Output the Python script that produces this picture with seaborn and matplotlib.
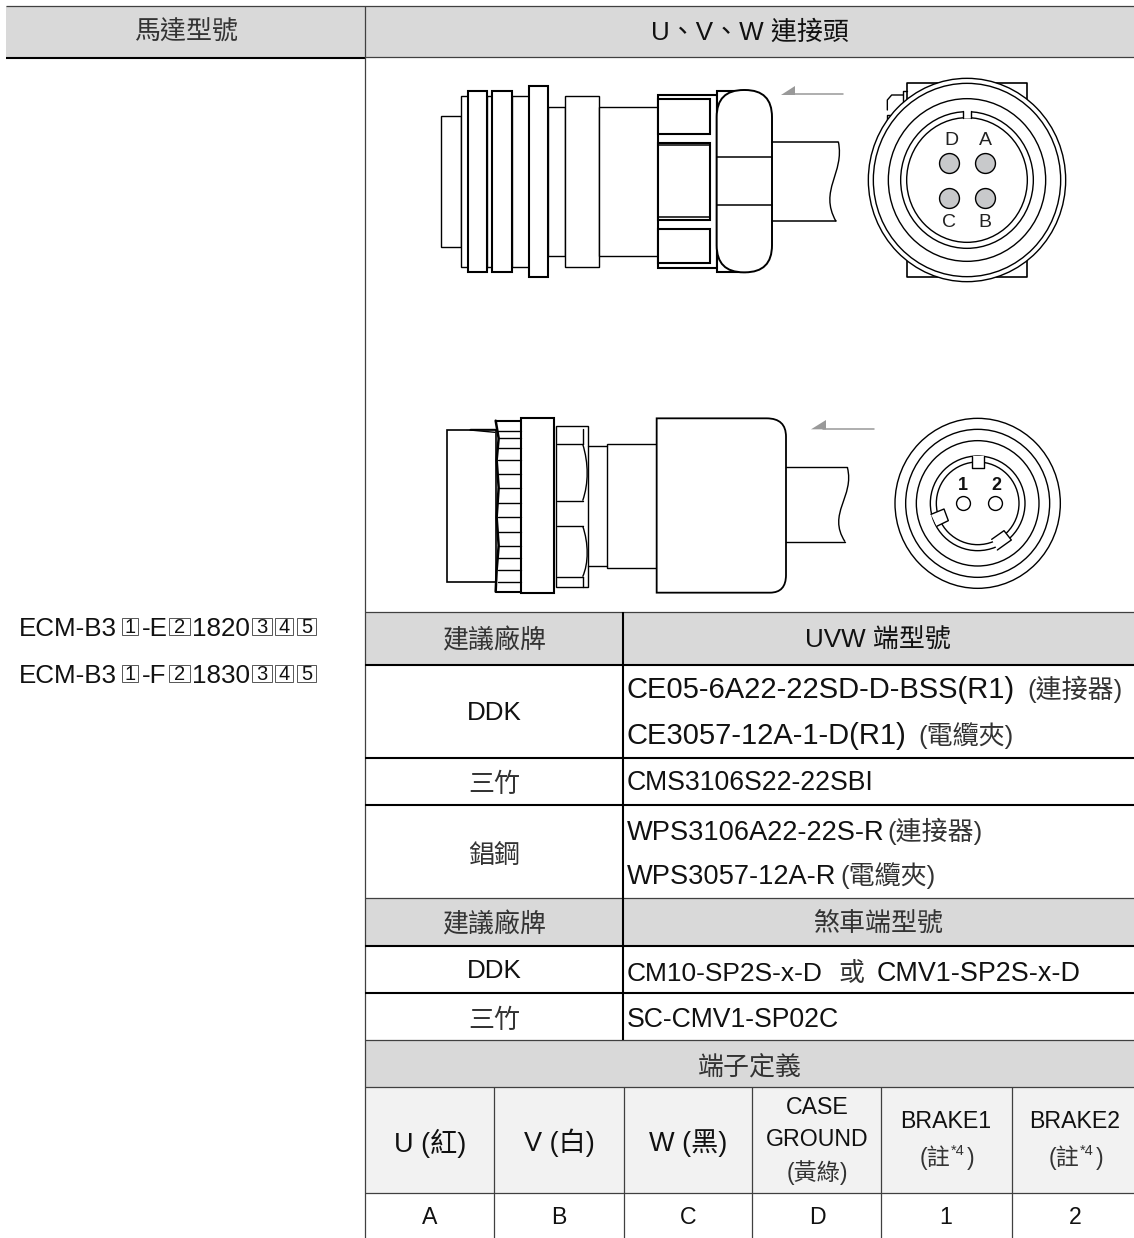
import matplotlib
matplotlib.use("Agg")
import matplotlib.pyplot as plt
from matplotlib.patches import Rectangle, Polygon, Ellipse, FancyBboxPatch, PathPatch
from matplotlib.path import Path
import pandas as pd
import seaborn as sns

#table text
head_left = "馬達型號"
head_right = "U、V、W 連接頭"
brand_head = "建議廠牌"
uvw_head = "UVW 端型號"
brake_head = "煞車端型號"
term_head = "端子定義"
brands_uvw = ["DDK", "三竹", "錩鋼"]
brands_brake = ["DDK", "三竹"]
term_names = ["U (紅)", "V (白)", "W (黑)"]
term_pins = ["A", "B", "C", "D", "1", "2"]
pin_labels_a = ["D", "A", "C", "B"]

#grid of the table, in pixels of the picture
thin_rows = [612, 898, 1040, 1087, 1193]
thick_rows = [665, 758, 804.5, 946, 993]
term_cols = [494, 624, 752, 881, 1012]

#connector outlines, in zoom pixels (3x)
plug1_rects = [(62, 168, 122, 562, 1), (122, 108, 145, 620, 1), (143, 93, 202, 635, 1.5),
               (202, 108, 218, 620, 1), (217, 93, 275, 635, 1.5), (275, 108, 328, 620, 1),
               (328, 78, 385, 652, 1.5), (385, 142, 434, 588, 1), (434, 108, 538, 620, 1),
               (538, 142, 714, 588, 1), (714, 105, 890, 625, 1.5), (714, 118, 870, 222, 1.5),
               (714, 248, 870, 480, 1.5), (714, 508, 870, 610, 1.5), (890, 93, 975, 636, 1.5)]
plug1_lines = [[(714, 255), (870, 255)], [(714, 472), (870, 472)],
               [(1056, 245), (1255, 245)], [(1056, 484), (1248, 484)]]
plug2_rects = [(50, 90, 197, 545, 1.2), (272, 55, 373, 580, 1.5),
               (378, 78, 475, 560, 1.0), (532, 132, 680, 505, 1)]
plug2_lines = [[(380, 132), (458, 132)], [(380, 302), (458, 302)], [(380, 378), (458, 378)],
               [(380, 530), (458, 530)], [(475, 137), (532, 137)],
               [(475, 497), (532, 497)], [(1068, 202), (1252, 202)], [(1068, 425), (1245, 425)],
               [(120, 86), (195, 86)], [(120, 90), (195, 97)],
               [(458, 132), (476, 190), (476, 250), (458, 302)],
               [(458, 378), (476, 430), (476, 490), (458, 530)],
               [(458, 88), (458, 132)], [(458, 530), (458, 560)]]
knurl_y = [92, 115, 145, 180, 222, 263, 310, 352, 397, 437, 475, 510, 545]
knurl_edge = [(197, 62), (206, 115), (200, 180), (206, 263), (200, 352), (206, 437), (200, 510), (197, 575)]
view1_radii = [(296, 305), (281, 290), (236, 244), (199, 205), (181, 187)]
view2_radii = [(248, 255), (216, 222), (184, 188), (142, 142), (124, 124)]
pins_x = [298, 406, 298, 406]
pins_y = [280, 280, 383, 383]
pins2_x = [248, 344]

sns.set_theme(style="white")
plt.rcParams["font.family"] = ["Liberation Sans", "Noto Sans CJK TC"]
INK = "#111111"
CJK = "#333333"

fig = plt.figure(figsize=(11.34, 12.38), dpi=100)
ax = fig.add_axes([0, 0, 1, 1])
ax.set_xlim(0, 1134)
ax.set_ylim(1238, 0)
ax.axis("off")


def txt(x, y, s, size=18.7, ha="center", va="center", **kw):
    ax.text(x, y, s, fontsize=size, ha=ha, va=va, color=kw.pop("color", INK), **kw)


def fill(x0, y0, x1, y1, color):
    ax.add_patch(Rectangle((x0, y0), x1 - x0, y1 - y0, fc=color, ec="none", zorder=0))


def hline(y, x0, x1, thick=False):
    ax.plot([x0, x1], [y, y], color="black" if thick else "#404040", lw=1.5 if thick else 0.9, zorder=3,
            solid_capstyle="butt")


def vline(x, y0, y1, thick=False):
    ax.plot([x, x], [y0, y1], color="black" if thick else "#404040", lw=1.5 if thick else 0.9, zorder=3,
            solid_capstyle="butt")


def to_px(ox, oy, pts):
    return [(ox + a / 3, oy + b / 3) for a, b in pts]


def poly(ox, oy, pts, lw=1.0, color="black", z=5):
    xy = to_px(ox, oy, pts)
    ax.plot([p[0] for p in xy], [p[1] for p in xy], color=color, lw=lw, zorder=z, solid_joinstyle="round")


def wavy(ox, oy, pts, lw=1.0):
    xy = to_px(ox, oy, pts)
    codes = [Path.MOVETO, Path.CURVE4, Path.CURVE4, Path.CURVE4]
    ax.add_patch(PathPatch(Path(xy, codes), fc="none", ec="black", lw=lw, zorder=5))


def box(ox, oy, r, z=4):
    x0, y0, x1, y1, lw = r
    p = to_px(ox, oy, [(x0, y0), (x1, y1)])
    ax.add_patch(Rectangle(p[0], p[1][0] - p[0][0], p[1][1] - p[0][1], fc="white", ec="black", lw=lw, zorder=z))


#fills
fill(6, 6, 1134, 58, "#d9d9d9")
fill(365, 612, 1134, 665, "#d9d9d9")
fill(365, 898, 1134, 946, "#d9d9d9")
fill(365, 1040, 1134, 1087, "#d9d9d9")
fill(365, 1087, 1134, 1193, "#f2f2f2")

#grid
hline(6, 6, 1134)
hline(58, 6, 365, True)
hline(57, 365, 1134)
vline(365, 6, 1238)
for y in thin_rows:
    hline(y, 365, 1134)
for y in thick_rows:
    hline(y, 365, 1134, True)
vline(623, 612, 1040, True)
for x in term_cols:
    vline(x, 1087, 1238)

#headers
txt(186, 32.5, head_left, color=CJK)
txt(750, 33, head_right)
txt(494, 640.5, brand_head, color=CJK)
txt(878, 640.5, uvw_head)
txt(494, 925, brand_head, color=CJK)
txt(878, 925, brake_head, color=CJK)
txt(750, 1068, term_head, color=CJK)

#left column, model numbers with boxed digits
for base, mid, tail, num in [(636, "-E", "1820", 0), (683, "-F", "1830", 1)]:
    txt(19, base, "ECM-B3", ha="left", va="baseline")
    txt(141.5, base, mid, ha="left", va="baseline")
    txt(192.5, base, tail, ha="left", va="baseline")
    for x0, x1, d in [(122, 138, "1"), (169, 190, "2"), (252, 272, "3"), (275, 293, "4"), (297, 316, "5")]:
        ax.add_patch(Rectangle((x0, base - 18), x1 - x0, 17, fc="white", ec="#555555", lw=0.7, zorder=4))
        txt((x0 + x1) / 2, base - 3, d, size=14.5, va="baseline", zorder=5)

#brand cells
txt(494, 713.5, brands_uvw[0])
txt(494, 785, brands_uvw[1], color=CJK)
txt(494, 856, brands_uvw[2], color=CJK)
txt(494, 971, brands_brake[0])
txt(494, 1021, brands_brake[1], color=CJK)

#model cells
txt(627, 698, "CE05-6A22-22SD-D-BSS(R1)", size=21, ha="left", va="baseline")
txt(1027, 698, "(連接器)", ha="left", va="baseline", color=CJK)
txt(627, 744, "CE3057-12A-1-D(R1)", size=21, ha="left", va="baseline")
txt(918, 744, "(電纜夾)", ha="left", va="baseline", color=CJK)
txt(627, 790, "CMS3106S22-22SBI", size=19.2, ha="left", va="baseline")
txt(627, 840, "WPS3106A22-22S-R", size=19.6, ha="left", va="baseline")
txt(887, 840, "(連接器)", ha="left", va="baseline", color=CJK)
txt(627, 884, "WPS3057-12A-R", size=19.6, ha="left", va="baseline")
txt(840, 884, "(電纜夾)", ha="left", va="baseline", color=CJK)
txt(627, 981, "CM10-SP2S-x-D", size=19, ha="left", va="baseline")
txt(838, 981, "或", ha="left", va="baseline", color=CJK)
txt(877, 981, "CMV1-SP2S-x-D", size=19.4, ha="left", va="baseline")
txt(627, 1027, "SC-CMV1-SP02C", size=19.2, ha="left", va="baseline")

#terminal definition
for x, name in zip([430, 559, 688], term_names):
    txt(x, 1143, name, size=19.5)
txt(817, 1107, "CASE", size=16.7)
txt(817, 1139, "GROUND", size=16.7)
txt(817, 1173, "(黃綠)", size=16.7, color=CJK)
for x, name in zip([946, 1075], ["BRAKE1", "BRAKE2"]):
    txt(x, 1122, name, size=16.7)
    txt(x - 26, 1158, "(註", size=16.7, ha="left", color=CJK)
    txt(x + 5, 1151, "*4", size=10.5, ha="left", color=CJK)
    txt(x + 21, 1158, ")", size=16.7, ha="left", color=CJK)
for x, pin in zip([430, 559, 688, 817, 946, 1075], term_pins):
    txt(x, 1217, pin, size=16.7)

#top side view
for r in plug1_rects:
    box(420, 60, r)
for pts in plug1_lines:
    poly(420, 60, pts, lw=1.1)
ax.add_patch(FancyBboxPatch((420 + 890 / 3, 60 + 90 / 3), 166 / 3, 547 / 3, boxstyle="round,pad=0,rounding_size=27",
                            fc="white", ec="black", lw=1.4, zorder=4.5))
poly(420, 60, [(890, 292), (1056, 292)], lw=1.1)
poly(420, 60, [(890, 436), (1056, 436)], lw=1.1)
wavy(420, 60, [(1255, 245), (1275, 340), (1195, 390), (1248, 484)])
ax.add_patch(Polygon(to_px(420, 60, [(1083, 105), (1125, 78), (1125, 105)]), fc="#999999", ec="none", zorder=5))
poly(420, 60, [(1120, 103), (1270, 103)], lw=1.1, color="#999999")

#top end view
cx, cy = 850 + 351 / 3, 70 + 330 / 3
poly(850, 70, [(172, 130), (172, 40), (532, 40), (532, 130)], lw=1.2, z=3)
poly(850, 70, [(172, 570), (172, 620), (532, 620), (532, 570)], lw=1.2, z=3)
poly(850, 70, [(160, 95), (160, 62), (172, 62)], lw=1, z=3)
poly(850, 70, [(112, 120), (112, 90), (125, 75), (160, 75)], lw=1, z=3)
poly(850, 70, [(112, 150), (112, 135), (125, 135)], lw=1, z=3)
for rx, ry in view1_radii:
    ax.add_patch(Ellipse((cx, cy), 2 * rx / 3, 2 * ry / 3, fc="white", ec="black", lw=1.0, zorder=4))
ax.add_patch(Rectangle((850 + 341 / 3, 70 + 118 / 3), 21 / 3, 26 / 3, fc="white", ec="none", zorder=4.5))
poly(850, 70, [(340, 122), (340, 145)], lw=1.0)
poly(850, 70, [(362, 122), (362, 145)], lw=1.0)
pins_a = pd.DataFrame({"x": [850 + v / 3 for v in pins_x], "y": [70 + v / 3 for v in pins_y]})
sns.scatterplot(data=pins_a, x="x", y="y", s=205, color="#c8c9cb", edgecolor="black", linewidth=1.0, zorder=6, ax=ax)
for (zx, zy), name in zip([(305, 212), (405, 212), (297, 458), (405, 458)], pin_labels_a):
    px = to_px(850, 70, [(zx, zy)])[0]
    txt(px[0], px[1], name, size=14, zorder=6, color="#222222")

#bottom side view
for r in plug2_rects:
    box(430, 400, r)
poly(430, 400, knurl_edge, lw=1.8)
poly(430, 400, [(197, 62), (272, 62)], lw=1.5)
poly(430, 400, [(197, 575), (272, 575)], lw=1.5)
for y in knurl_y:
    poly(430, 400, [(204, y), (272, y)], lw=1.0)
for pts in plug2_lines:
    if len(pts) == 4:
        wavy(430, 400, pts)
    else:
        poly(430, 400, pts, lw=1.0)
#big body with round corners on the cable side
b = to_px(430, 400, [(680, 55), (1010, 55), (1068, 55), (1068, 110), (1068, 525), (1068, 578), (1020, 578), (680, 578), (680, 55)])
body_codes = [Path.MOVETO, Path.LINETO, Path.CURVE3, Path.CURVE3, Path.LINETO, Path.CURVE3, Path.CURVE3, Path.LINETO,
              Path.CLOSEPOLY]
ax.add_patch(PathPatch(Path(b, body_codes), fc="white", ec="black", lw=1.3, zorder=4))
wavy(430, 400, [(1252, 202), (1275, 290), (1190, 340), (1245, 425)])
ax.add_patch(Polygon(to_px(430, 400, [(1143, 88), (1188, 60), (1188, 88)]), fc="#999999", ec="none", zorder=5))
poly(430, 400, [(1180, 88), (1332, 88)], lw=1.1, color="#999999")

#bottom end view
cx2, cy2 = 880 + 293 / 3, 400 + 310 / 3
for rx, ry in view2_radii:
    ax.add_patch(Ellipse((cx2, cy2), 2 * rx / 3, 2 * ry / 3, fc="white", ec="black", lw=1.0, zorder=4))
for pts in [[(275, 168), (275, 203), (312, 203), (312, 168)],
            [(153, 343), (192, 327), (205, 362), (170, 379)],
            [(335, 418), (372, 392), (394, 420), (352, 450)]]:
    ax.add_patch(Polygon(to_px(880, 400, pts), fc="white", ec="none", zorder=4.5))
    poly(880, 400, pts, lw=1.0)
pins_b = pd.DataFrame({"x": [880 + v / 3 for v in pins2_x], "y": [400 + 308 / 3] * 2})
sns.scatterplot(data=pins_b, x="x", y="y", s=100, color="white", edgecolor="black", linewidth=1.0, zorder=6, ax=ax)
txt(880 + 250 / 3, 400 + 258 / 3, "1", size=13, weight="bold", zorder=6)
txt(880 + 348 / 3, 400 + 258 / 3, "2", size=13, weight="bold", zorder=6)

ax.set_xlim(0, 1134)
ax.set_ylim(1238, 0)
ax.set_xlabel("")
ax.set_ylabel("")
fig.savefig("out.png", dpi=100)
